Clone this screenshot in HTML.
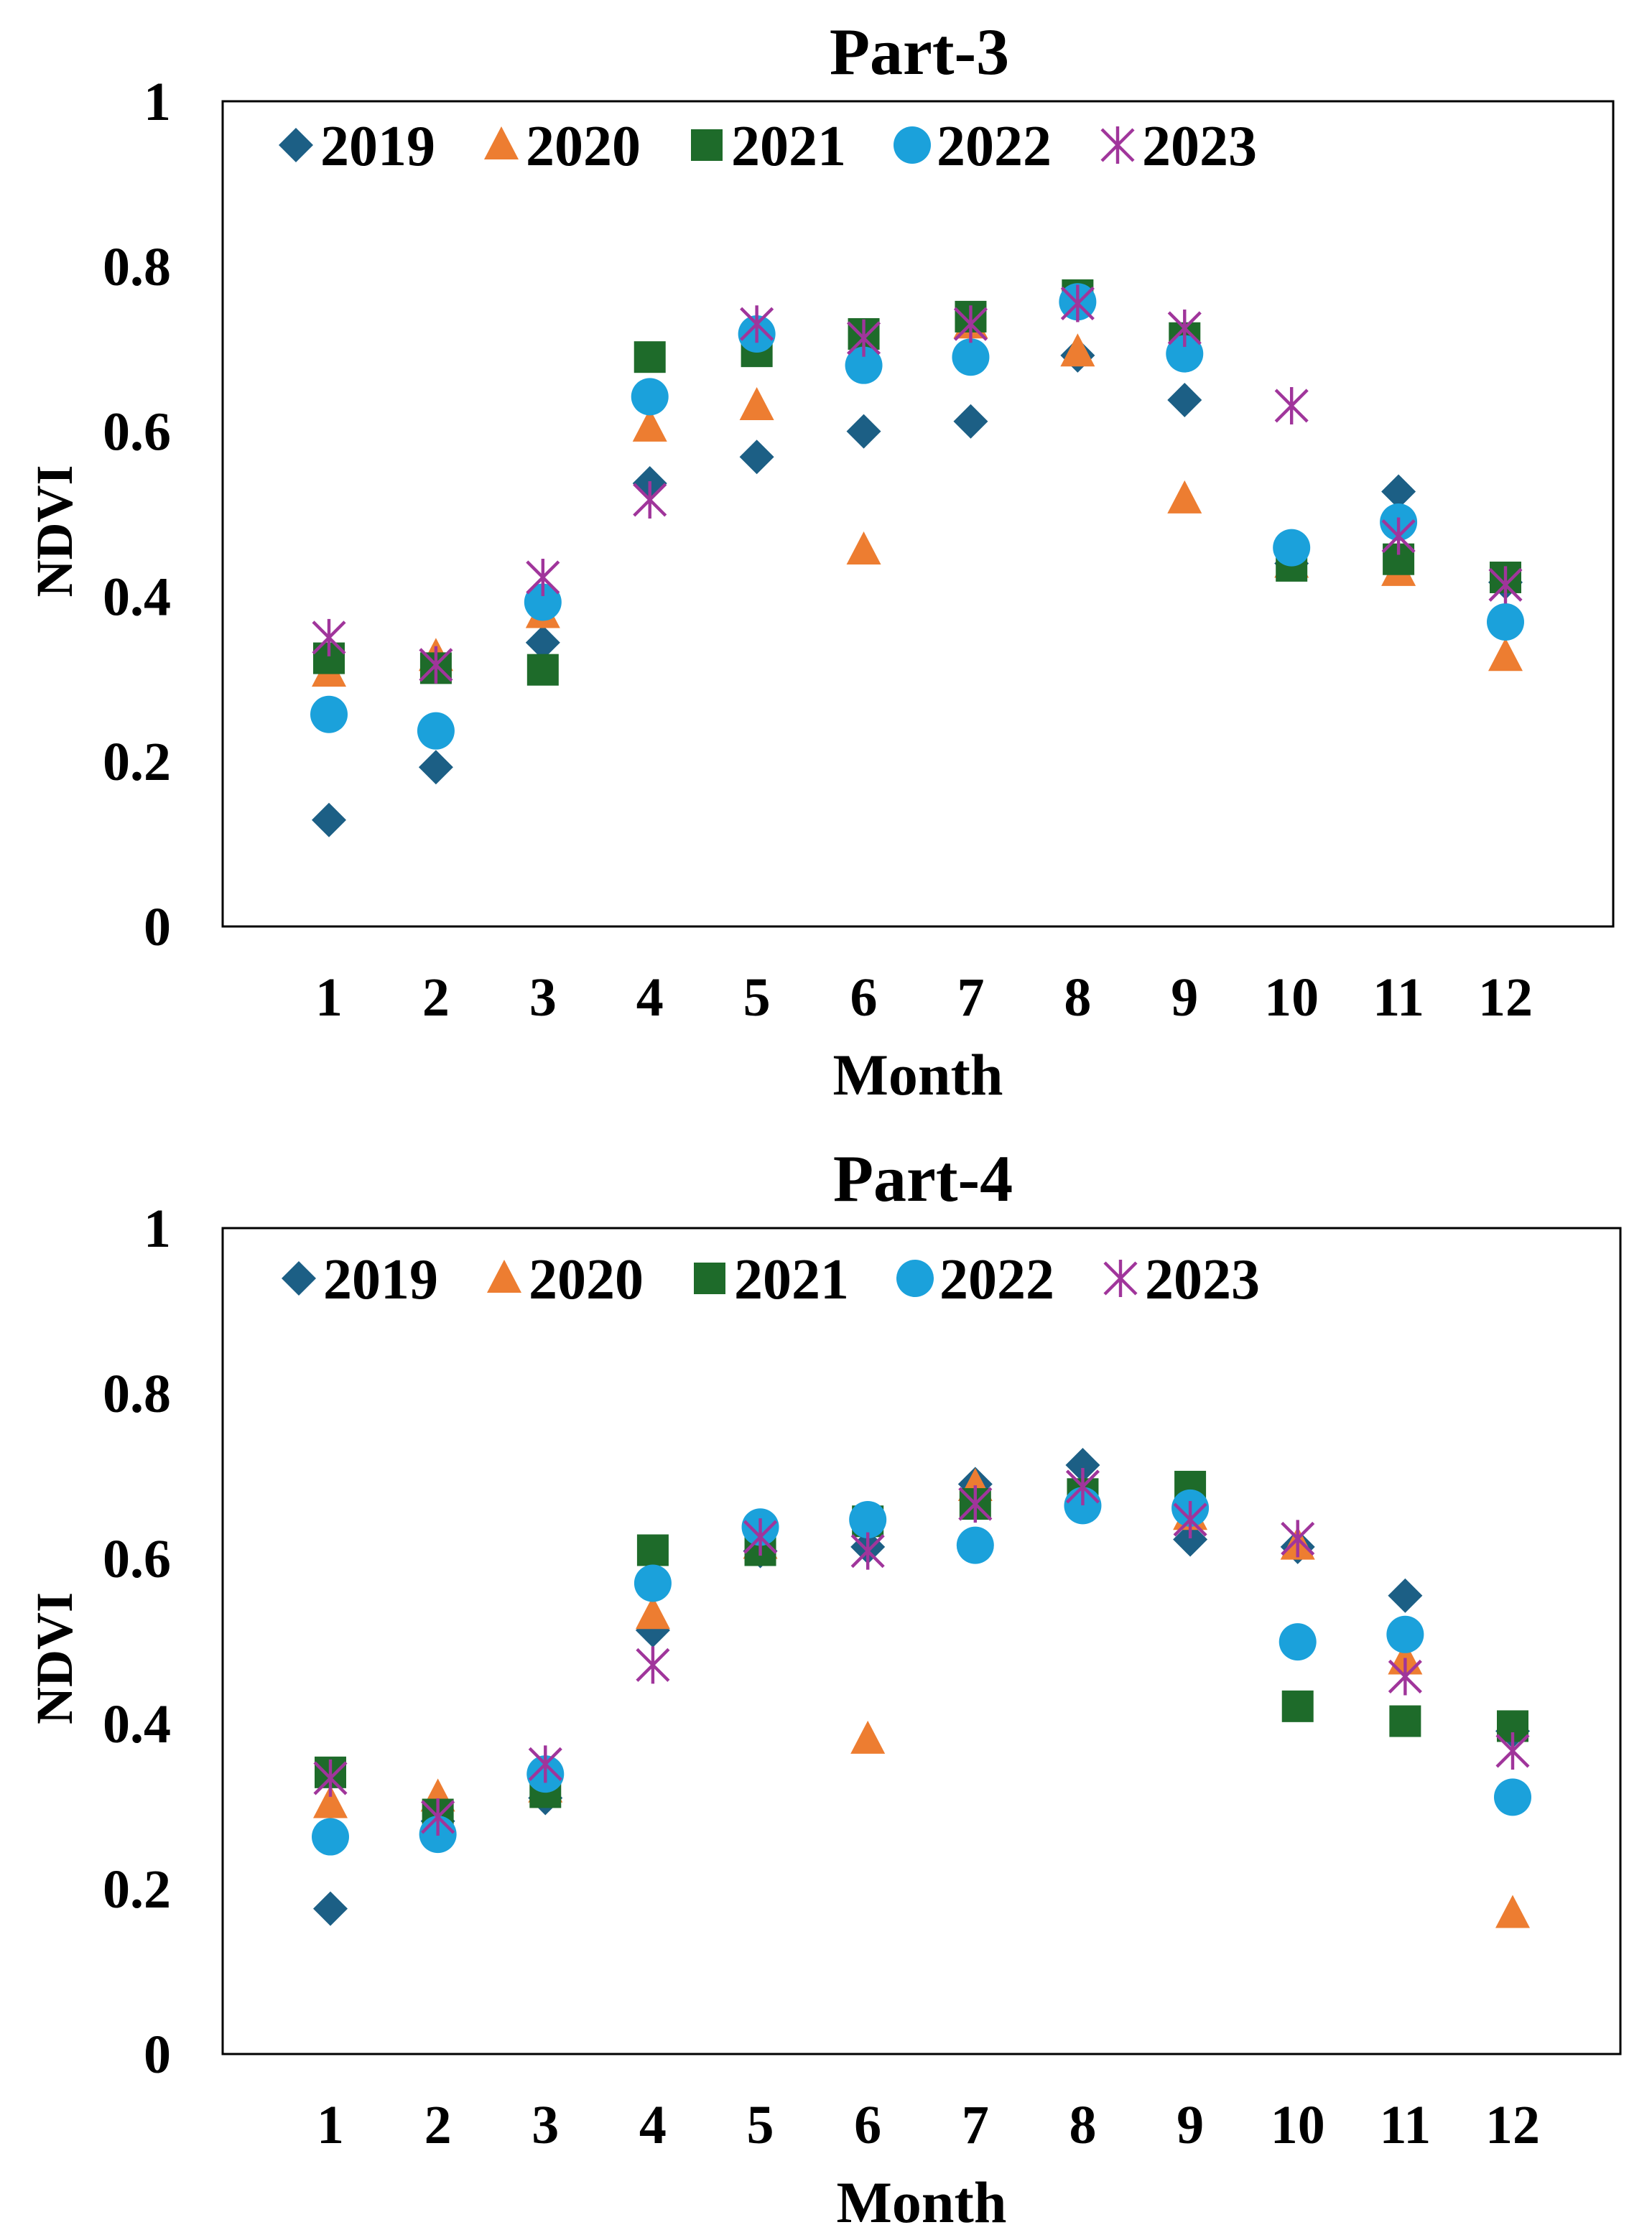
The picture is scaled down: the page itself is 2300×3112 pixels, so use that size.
<!DOCTYPE html>
<html><head><meta charset="utf-8"><style>
html,body{margin:0;padding:0;background:#fff}
svg{display:block}
text{font-family:"Liberation Serif",serif;font-weight:bold;fill:#000}
</style></head>
<body>
<svg id="chart" width="2300" height="3112" viewBox="0 0 1150 1556" xmlns="http://www.w3.org/2000/svg"></svg>
<script>
const months = [1,2,3,4,5,6,7,8,9,10,11,12];
const years = ["2019","2020","2021","2022","2023"];
const yTicks = [0,0.2,0.4,0.6,0.8,1];
const yTickLabels = ["0","0.2","0.4","0.6","0.8","1"];
const p3_2019 = [0.129,0.193,0.344,0.537,0.569,0.600,0.612,0.692,0.638,0.440,0.527,0.417];
const p3_2020 = [0.308,0.327,0.379,0.605,0.631,0.456,0.730,0.696,0.518,0.440,0.430,0.327];
const p3_2021 = [0.325,0.313,0.311,0.690,0.697,0.718,0.739,0.765,0.713,0.437,0.445,0.423];
const p3_2022 = [0.257,0.237,0.393,0.642,0.718,0.680,0.690,0.757,0.694,0.459,0.490,0.369];
const p3_2023 = [0.350,0.317,0.423,0.517,0.730,0.713,0.730,0.755,0.725,0.631,0.473,0.414];
const p4_2019 = [0.176,0.282,0.310,0.513,0.609,0.614,0.690,0.713,0.623,0.614,0.555,0.391];
const p4_2020 = [0.303,0.311,0.322,0.532,0.617,0.381,0.687,0.678,0.652,0.616,0.477,0.170];
const p4_2021 = [0.341,0.290,0.317,0.610,0.610,0.645,0.666,0.678,0.687,0.421,0.403,0.397];
const p4_2022 = [0.263,0.266,0.339,0.570,0.638,0.647,0.616,0.664,0.661,0.499,0.508,0.311];
const p4_2023 = [0.334,0.287,0.351,0.471,0.626,0.609,0.666,0.687,0.647,0.624,0.457,0.367];

const colors = ["#1C5F85","#ED7D31","#1E6B2A","#1BA1DB","#A0359B"];
const NS = "http://www.w3.org/2000/svg";
const svg = document.getElementById("chart");
function mk(tag, attrs, parent){
  const e = document.createElementNS(NS, tag);
  for (const k in attrs) e.setAttribute(k, attrs[k]);
  (parent||svg).appendChild(e);
  return e;
}
function marker(g, s, cx, cy){
  const c = colors[s]; let e;
  if (s===0){ e = mk("polygon",{points:`${cx},${cy-12} ${cx+12},${cy} ${cx},${cy+12} ${cx-12},${cy}`,fill:c},g); }
  else if (s===1){ e = mk("polygon",{points:`${cx},${cy-13} ${cx+12},${cy+10} ${cx-12},${cy+10}`,fill:c},g); }
  else if (s===2){ e = mk("rect",{x:cx-11,y:cy-11,width:22,height:22,fill:c},g); }
  else if (s===3){ e = mk("circle",{cx:cx,cy:cy,r:13,fill:c},g); }
  else {
    e = mk("path",{d:`M${cx-11},${cy-11}L${cx+11},${cy+11}M${cx+11},${cy-11}L${cx-11},${cy+11}M${cx},${cy-13}L${cx},${cy+13}`,stroke:c,"stroke-width":2.2,fill:"none"},g);
  }
  return e;
}
function drawPanel(cfg){
  const {name,title,left,right,top,bottom,x1,x12,series,legendY,legendX} = cfg;
  const g = mk("g",{});
  
  
  const xs = m => x1 + (m-1)*(x12-x1)/11;
  const ys = v => bottom - v*(bottom-top);
  const t = mk("text",{x:(left+right)/2+1,y:top-19,"font-size":46,"text-anchor":"middle"},g);
  t.textContent = title;
  
  
  const box = mk("rect",{x:left,y:top,width:right-left,height:bottom-top,fill:"none",stroke:"#000","stroke-width":1.5},g);
  
  
  yTicks.forEach((v,i)=>{
    const tl = mk("text",{x:left-36,y:ys(v)+13,"font-size":38,"text-anchor":"end"},g);
    tl.textContent = yTickLabels[i];
    
    
  });
  months.forEach(m=>{
    const tl = mk("text",{x:xs(m),y:bottom+62,"font-size":38,"text-anchor":"middle"},g);
    tl.textContent = String(m);
    
    
  });
  const xt = mk("text",{x:(left+right)/2,y:bottom+117,"font-size":41,"text-anchor":"middle"},g);
  xt.textContent = "Month";
  
  
  const yt = mk("text",{x:0,y:0,"font-size":36,"text-anchor":"middle",transform:`translate(50,${(top+bottom)/2+12}) rotate(-90)`},g);
  yt.textContent = "NDVI";
  
  
  series.forEach((vals,s)=>{
    const sg = mk("g",{},g);
    
    
    vals.forEach((v,i)=>{
      const e = marker(sg, s, xs(months[i]), ys(v));
      
      
    });
  });
  years.forEach((y,s)=>{
    const lx = legendX + s*143;
    const lg = mk("g",{},g);
    
    
    marker(lg, s, lx, legendY);
    const lt = mk("text",{x:lx+17,y:legendY+14,"font-size":40},lg);
    lt.textContent = y;
  });
}
drawPanel({name:"panel-part-3",title:"Part-3",left:155,right:1123,top:70.5,bottom:645,x1:229,x12:1048,
  series:[p3_2019,p3_2020,p3_2021,p3_2022,p3_2023],legendY:101,legendX:206});
drawPanel({name:"panel-part-4",title:"Part-4",left:155,right:1128,top:855,bottom:1430,x1:230,x12:1053,
  series:[p4_2019,p4_2020,p4_2021,p4_2022,p4_2023],legendY:890,legendX:208});
</script>
</body></html>
